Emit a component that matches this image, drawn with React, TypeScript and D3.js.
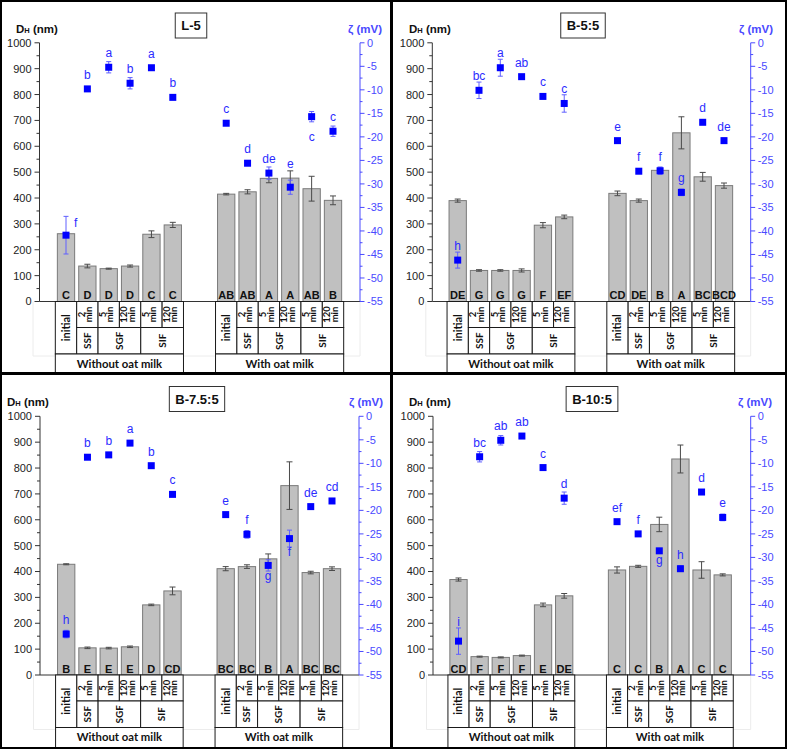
import React from "react";
import * as d3 from "d3";

const WIDTH = 787;
const HEIGHT = 749;

const sampleTitles = ["L-5", "B-5:5", "B-7.5:5", "B-10:5"];
const groupNames = ["Without oat milk", "With oat milk"];
const timeRows: (string[] | null)[] = [null, ["2", "min"], ["5", "min"], ["120", "min"], ["5", "min"], ["120", "min"]];
const phases = [
  { name: "SSF", first: 1, last: 1 },
  { name: "SGF", first: 2, last: 3 },
  { name: "SIF", first: 4, last: 5 },
];

const dhTicks = d3.range(0, 1001, 100);
const dhMinor = d3.range(50, 1000, 100);
const zetaTicks = d3.range(-55, 1, 5);
const zetaMinor = d3.range(-52.5, 0, 5);

// L-5
const dhL5 = [262, 137, 127, 137, 260, 296, 415, 424, 476, 477, 436, 391];
const dhErrL5 = [4, 7, 2, 4, 13, 10, 3, 8, 17, 28, 48, 17];
const zetaL5 = [-40.9, -9.8, -5.2, -8.6, -5.3, -11.6, -17.1, -25.6, -27.7, -30.7, -15.7, -18.8];
const zetaErrL5 = [4.0, 0.4, 1.2, 1.2, 0.4, 0.4, 0.4, 0.5, 1.3, 1.5, 1.1, 1.1];
const zetaLetL5 = ["f", "b", "a", "b", "a", "b", "c", "d", "de", "e", "c", "c"];
const zetaPosL5 = ["right", "above", "above", "above", "above", "above", "above", "above", "above", "overBar", "belowFar", "above"];
const dhLetL5 = ["C", "D", "D", "D", "C", "C", "AB", "AB", "A", "A", "AB", "B"];

// B-5:5
const dhB55 = [390, 120, 120, 120, 295, 327, 418, 390, 507, 652, 482, 448];
const dhErrB55 = [6, 3, 3, 6, 10, 7, 9, 6, 8, 62, 17, 10];
const zetaB55 = [-46.2, -10.1, -5.3, -7.2, -11.4, -12.9, -20.8, -27.3, -27.2, -31.8, -16.9, -20.8];
const zetaErrB55 = [1.7, 1.75, 1.8, 0.4, 0.4, 1.85, 0.3, 0.5, 0.8, 0.7, 0.3, 0.5];
const zetaLetB55 = ["h", "bc", "a", "ab", "c", "c", "e", "f", "f", "g", "d", "de"];
const zetaPosB55 = ["above", "above", "above", "above", "above", "above", "above", "above", "above", "above", "above", "above"];
const dhLetB55 = ["DE", "G", "G", "G", "F", "EF", "CD", "DE", "B", "A", "BC", "BCD"];

// B-7.5:5
const dhB755 = [428, 105, 104, 109, 271, 325, 411, 419, 449, 732, 396, 411];
const dhErrB755 = [2, 3, 3, 3, 3, 15, 8, 7, 19, 92, 5, 7];
const zetaB755 = [-46.3, -8.7, -8.2, -5.7, -10.5, -16.6, -20.9, -25.1, -31.7, -26.0, -19.2, -18.0];
const zetaErrB755 = [0.8, 0.4, 0.3, 0.3, 0.3, 0.3, 0.3, 0.8, 1.2, 1.8, 0.3, 0.3];
const zetaLetB755 = ["h", "b", "b", "a", "b", "c", "e", "f", "g", "f", "de", "cd"];
const zetaPosB755 = ["above", "above", "above", "above", "above", "above", "above", "above", "below", "below", "above", "above"];
const dhLetB755 = ["B", "E", "E", "E", "D", "CD", "BC", "BC", "B", "A", "BC", "BC"];

// B-10:5
const dhB105 = [369, 71, 68, 75, 271, 306, 406, 420, 582, 835, 406, 387];
const dhErrB105 = [6, 2, 2, 2, 7, 9, 12, 4, 28, 54, 32, 4];
const zetaB105 = [-47.8, -8.6, -5.1, -4.2, -10.9, -17.4, -22.4, -25.0, -28.6, -32.4, -16.1, -21.5];
const zetaErrB105 = [2.8, 1.1, 1.0, 0.3, 0.4, 1.3, 0.3, 0.3, 0.3, 0.6, 0.3, 0.7];
const zetaLetB105 = ["i", "bc", "ab", "ab", "c", "d", "ef", "f", "g", "h", "d", "e"];
const zetaPosB105 = ["above", "above", "above", "above", "above", "above", "above", "above", "below", "above", "above", "above"];
const dhLetB105 = ["CD", "F", "F", "F", "E", "DE", "C", "C", "B", "A", "C", "C"];

const panelData = [
  { dh: dhL5, dhErr: dhErrL5, zeta: zetaL5, zetaErr: zetaErrL5, zLet: zetaLetL5, zPos: zetaPosL5, dhLet: dhLetL5 },
  { dh: dhB55, dhErr: dhErrB55, zeta: zetaB55, zetaErr: zetaErrB55, zLet: zetaLetB55, zPos: zetaPosB55, dhLet: dhLetB55 },
  { dh: dhB755, dhErr: dhErrB755, zeta: zetaB755, zetaErr: zetaErrB755, zLet: zetaLetB755, zPos: zetaPosB755, dhLet: dhLetB755 },
  { dh: dhB105, dhErr: dhErrB105, zeta: zetaB105, zetaErr: zetaErrB105, zLet: zetaLetB105, zPos: zetaPosB105, dhLet: dhLetB105 },
];

// Placement of each panel inside the figure
const layouts = [
  { ox: 0, oy: 0, axisL: 39.5, axisR: 360, c0: 66, c1: 333, dhX: 16, zX: 348, titleX: 191, labY: 33 },
  { ox: 393, oy: 0, axisL: 39.3, axisR: 357.7, c0: 64.7, c1: 331, dhX: 16, zX: 346, titleX: 190, labY: 33 },
  { ox: 0, oy: 373.5, axisL: 40, axisR: 359, c0: 66.2, c1: 332, dhX: 7, zX: 349, titleX: 197, labY: 32 },
  { ox: 393, oy: 373.5, axisL: 40, axisR: 357.7, c0: 65.5, c1: 329.7, dhX: 16, zX: 345, titleX: 199, labY: 32 },
];

const SANS = "'Liberation Sans', Arial, sans-serif";
const TABLE_FONT = "Lato, 'Open Sans', sans-serif";
const BLUE = "#0000ff";
const BLUE_TEXT = "#2b2bff";
const BLUE_AXIS = "#4a4aff";
const BLUE_ERR = "#6060ff";

const measureCtx = typeof document !== "undefined" ? document.createElement("canvas").getContext("2d") : null;
function textWidth(t: string, font: string) {
  if (!measureCtx) return t.length * 8;
  measureCtx.font = font;
  return measureCtx.measureText(t).width;
}

function Panel({ idx }: { idx: number }) {
  const L = layouts[idx];
  const p = panelData[idx];
  const title = sampleTitles[idx];
  const y0 = 301.5;
  const yTop = 42.8;
  const yDh = d3.scaleLinear().domain([0, 1000]).range([y0, yTop]);
  const yZeta = d3.scaleLinear().domain([-55, 0]).range([y0, yTop]);
  const xSlot = d3.scaleLinear().domain([0, 12.5]).range([L.c0, L.c1]);
  const step = xSlot(1) - xSlot(0);
  const slotOf = (i: number) => (i < 6 ? i : i + 1.5);
  const cx = (i: number) => xSlot(slotOf(i));
  const bw = 17.3;
  const idxs = d3.range(p.dh.length);

  const rowA = y0 + 26;
  const rowB = y0 + 52.5;
  const rowC = y0 + 80;

  const titleFont = `bold 13px ${SANS}`;
  const tw = textWidth(title, titleFont) + 12;

  const zLabel = (i: number) => {
    const my = yZeta(p.zeta[i]);
    const eTop = yZeta(p.zeta[i] + p.zetaErr[i]);
    const eBot = yZeta(p.zeta[i] - p.zetaErr[i]);
    const pos = p.zPos[i];
    let x = cx(i);
    let y = Math.min(my - 10, eTop - 2);
    let anchor = "middle";
    if (pos === "right") {
      x = cx(i) + 8;
      y = my - 8;
      anchor = "start";
    } else if (pos === "below") {
      y = Math.max(my + 9, eBot + 5) + 4;
    } else if (pos === "belowFar") {
      y = Math.max(my + 9, eBot + 5) + 14;
    } else if (pos === "overBar") {
      y = Math.min(y, yDh(p.dh[i] + p.dhErr[i]) - 3);
    }
    return { x, y, anchor };
  };

  return (
    <g transform={`translate(${L.ox},${L.oy})`}>
      <defs>
        <clipPath id={`clip-${idx}`}>
          <rect x={0} y={0} width={393} height={375} />
        </clipPath>
      </defs>
      <g clipPath={`url(#clip-${idx})`}>
        {/* faint layer frame */}
        <path
          d={`M${L.axisL - 6.5},${y0}V${y0 + 54.5}H${L.axisR}V${y0}`}
          fill="none"
          stroke="#ececec"
          strokeWidth={1}
        />

        {/* D_H bars */}
        {idxs.map((i) => (
          <rect
            key={`bar${i}`}
            x={cx(i) - bw / 2}
            y={yDh(p.dh[i])}
            width={bw}
            height={y0 - yDh(p.dh[i])}
            fill="#c0c0c0"
            stroke="#7a7a7a"
            strokeWidth={1}
          />
        ))}
        {idxs.map((i) => {
          const t = yDh(p.dh[i] + p.dhErr[i]);
          const b = yDh(p.dh[i] - p.dhErr[i]);
          const x = cx(i);
          return (
            <g key={`be${i}`} stroke="#4a4a4a" strokeWidth={1}>
              <line x1={x} x2={x} y1={t} y2={b} />
              <line x1={x - 3} x2={x + 3} y1={t} y2={t} />
              <line x1={x - 3} x2={x + 3} y1={b} y2={b} />
            </g>
          );
        })}
        {idxs.map((i) => (
          <text
            key={`bl${i}`}
            x={cx(i)}
            y={y0 - 2.5}
            textAnchor="middle"
            fontFamily={SANS}
            fontWeight="bold"
            fontSize={11}
            fill="#111"
          >
            {p.dhLet[i]}
          </text>
        ))}

        {/* zeta potential points */}
        {idxs.map((i) => {
          const t = yZeta(p.zeta[i] + p.zetaErr[i]);
          const b = yZeta(p.zeta[i] - p.zetaErr[i]);
          const x = cx(i);
          return (
            <g key={`ze${i}`} stroke={BLUE_ERR} strokeWidth={1}>
              <line x1={x} x2={x} y1={t} y2={b} />
              <line x1={x - 2.5} x2={x + 2.5} y1={t} y2={t} />
              <line x1={x - 2.5} x2={x + 2.5} y1={b} y2={b} />
            </g>
          );
        })}
        {idxs.map((i) => (
          <rect
            key={`zm${i}`}
            x={cx(i) - 3.5}
            y={yZeta(p.zeta[i]) - 3.5}
            width={7}
            height={7}
            fill={BLUE}
          />
        ))}
        {idxs.map((i) => {
          const l = zLabel(i);
          return (
            <text
              key={`zl${i}`}
              x={l.x}
              y={l.y}
              textAnchor={l.anchor as any}
              fontFamily={SANS}
              fontSize={12}
              fill={BLUE_TEXT}
            >
              {p.zLet[i]}
            </text>
          );
        })}

        {/* left axis */}
        <line x1={L.axisL} x2={L.axisL} y1={yTop} y2={y0} stroke="#333" strokeWidth={1} />
        {dhTicks.map((v) => (
          <g key={`lt${v}`}>
            <line x1={L.axisL - 5} x2={L.axisL} y1={yDh(v)} y2={yDh(v)} stroke="#333" />
            <text
              x={L.axisL - 8}
              y={yDh(v)}
              dy="0.36em"
              textAnchor="end"
              fontFamily={SANS}
              fontSize={11}
              fill="#222"
            >
              {v}
            </text>
          </g>
        ))}
        {dhMinor.map((v) => (
          <line key={`lm${v}`} x1={L.axisL - 3} x2={L.axisL} y1={yDh(v)} y2={yDh(v)} stroke="#333" />
        ))}
        <text x={L.dhX} y={L.labY} fontFamily={SANS} fontWeight="bold" fontSize={11.5} fill="#111">
          D<tspan fontSize={7.5}>H</tspan> (nm)
        </text>

        {/* bottom axis line */}
        <line x1={L.axisL} x2={L.axisR} y1={y0} y2={y0} stroke="#333" strokeWidth={1} />

        {/* right axis */}
        <line x1={L.axisR} x2={L.axisR} y1={yTop} y2={y0} stroke={BLUE_AXIS} strokeWidth={1} />
        {zetaTicks.map((v) => (
          <g key={`rt${v}`}>
            <line x1={L.axisR} x2={L.axisR + 4.5} y1={yZeta(v)} y2={yZeta(v)} stroke={BLUE_AXIS} />
            <text
              x={L.axisR + 7}
              y={yZeta(v)}
              dy="0.36em"
              textAnchor="start"
              fontFamily={SANS}
              fontSize={11}
              fill={BLUE_AXIS}
            >
              {v === 0 ? "0" : `-${Math.abs(v)}`}
            </text>
          </g>
        ))}
        {zetaMinor.map((v) => (
          <line key={`rm${v}`} x1={L.axisR} x2={L.axisR + 2.5} y1={yZeta(v)} y2={yZeta(v)} stroke={BLUE_AXIS} />
        ))}
        <text x={L.zX} y={L.labY} fontFamily={SANS} fontWeight="bold" fontSize={11.5} fill={BLUE_AXIS}>
          ζ (mV)
        </text>

        {/* category table under the axis */}
        {groupNames.map((g, gi) => {
          const c = (k: number) => cx(gi * 6 + k);
          const left = c(0) - step / 2;
          const right = c(5) + step / 2;
          return (
            <g key={`tbl${gi}`} fontFamily={TABLE_FONT} fontWeight="bold" fill="#111">
              <g stroke="#1a1a1a" strokeWidth={1} fill="none">
                <rect x={left} y={y0} width={step} height={rowB - y0} fill="#fff" />
                {timeRows.map((t, k) =>
                  t ? <rect key={`tc${k}`} x={c(k) - step / 2} y={y0} width={step} height={rowA - y0} fill="#fff" /> : null
                )}
                {phases.map((ph) => (
                  <rect
                    key={`ph${ph.name}`}
                    x={c(ph.first) - step / 2}
                    y={rowA}
                    width={c(ph.last) - c(ph.first) + step}
                    height={rowB - rowA}
                    fill="#fff"
                  />
                ))}
                <rect x={left} y={rowB} width={right - left} height={rowC - rowB} fill="#fff" />
              </g>
              <text
                transform={`translate(${c(0)},${(y0 + rowB) / 2}) rotate(-90)`}
                textAnchor="middle"
                dy="0.35em"
                fontSize={11}
              >
                initial
              </text>
              {timeRows.map((t, k) =>
                t ? (
                  <text
                    key={`tt${k}`}
                    transform={`translate(${c(k)},${(y0 + rowA) / 2}) rotate(-90)`}
                    textAnchor="middle"
                    fontSize={9.5}
                  >
                    <tspan x={0} y={-2.8}>{t[0]}</tspan>
                    <tspan x={0} y={4.6}>{t[1]}</tspan>
                  </text>
                ) : null
              )}
              {phases.map((ph) => (
                <text
                  key={`pt${ph.name}`}
                  transform={`translate(${(c(ph.first) + c(ph.last)) / 2},${(rowA + rowB) / 2}) rotate(-90)`}
                  textAnchor="middle"
                  dy="0.35em"
                  fontSize={10}
                >
                  {ph.name}
                </text>
              ))}
              <text x={(left + right) / 2} y={rowB + 13.5} textAnchor="middle" fontSize={11.3}>
                {g}
              </text>
            </g>
          );
        })}

        {/* sample title */}
        <rect
          x={L.titleX - tw / 2}
          y={13}
          width={tw}
          height={25}
          fill="#fff"
          stroke="#333"
          strokeWidth={1}
        />
        <text
          x={L.titleX}
          y={30}
          textAnchor="middle"
          fontFamily={SANS}
          fontWeight="bold"
          fontSize={13}
          fill="#111"
        >
          {title}
        </text>
      </g>
    </g>
  );
}

export default function App() {
  return (
    <svg
      width={WIDTH}
      height={HEIGHT}
      viewBox={`0 0 ${WIDTH} ${HEIGHT}`}
      style={{ position: "absolute", left: 0, top: 0, background: "#fff" }}
    >
      <rect x={0} y={0} width={WIDTH} height={HEIGHT} fill="#fff" />
      {layouts.map((_, i) => (
        <Panel key={i} idx={i} />
      ))}
      {/* panel frames */}
      <g stroke="#000" fill="none">
        <line x1={1} x2={1} y1={0} y2={HEIGHT} strokeWidth={2} />
        <line x1={391.5} x2={391.5} y1={0} y2={HEIGHT} strokeWidth={3} />
        <line x1={786} x2={786} y1={0} y2={HEIGHT} strokeWidth={2} />
        <line x1={0} x2={WIDTH} y1={1} y2={1} strokeWidth={2} />
        <line x1={0} x2={WIDTH} y1={373.5} y2={373.5} strokeWidth={3} />
        <line x1={0} x2={WIDTH} y1={748} y2={748} strokeWidth={2} />
      </g>
    </svg>
  );
}
